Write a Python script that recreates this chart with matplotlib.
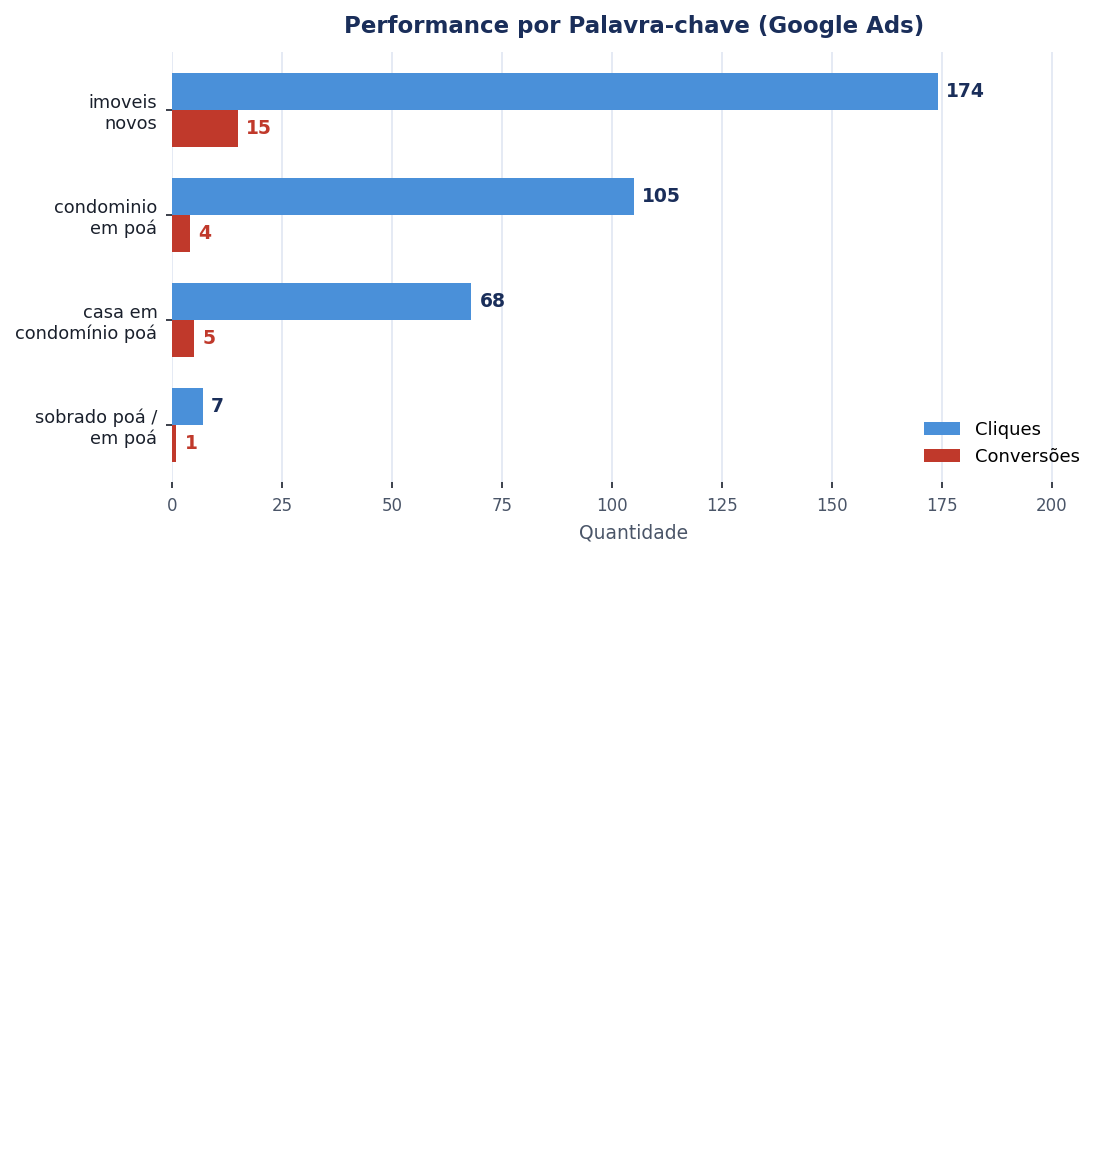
import matplotlib
matplotlib.use("Agg")
import matplotlib.pyplot as plt
import numpy as np

plt.rcParams["font.family"] = ["DejaVu Sans"]

keywords = ["imoveis\nnovos", "condominio\nem poá", "casa em\ncondomínio poá", "sobrado poá /\nem poá"]
cliques = [174, 105, 68, 7]
conversoes = [15, 4, 5, 1]
xticks = [0, 25, 50, 75, 100, 125, 150, 175, 200]

blue = "#4a90d9"
red = "#c0392b"
navy = "#1a2e5a"

fig = plt.figure(figsize=(11.1, 11.52), dpi=100)
ax = fig.add_axes([172/1110, 1-482/1152, (1096-172)/1110, (482-52)/1152])

y = np.arange(len(keywords))
h = 0.35
b1 = ax.barh(y - h/2, cliques, height=h, color=blue, label="Cliques", zorder=3)
b2 = ax.barh(y + h/2, conversoes, height=h, color=red, label="Conversões", zorder=3)

for rect, v in zip(b1, cliques):
    ax.annotate(str(v), (rect.get_width(), rect.get_y() + rect.get_height()/2),
                xytext=(6, 0), textcoords="offset points", va="center", ha="left",
                fontsize=13.5, fontweight="bold", color=navy)
for rect, v in zip(b2, conversoes):
    ax.annotate(str(v), (rect.get_width(), rect.get_y() + rect.get_height()/2),
                xytext=(6, 0), textcoords="offset points", va="center", ha="left",
                fontsize=13.5, fontweight="bold", color=red)

ax.set_yticks(y)
ax.set_yticklabels(keywords, fontsize=12.8, color="#1a202c")
ax.set_ylim(3.543, -0.552)
ax.set_xlim(0, 210)
ax.set_xticks(xticks)
ax.set_xticklabels([str(t) for t in xticks], fontsize=12, color="#4a5568")
ax.tick_params(axis="both", length=4.5, width=1.2, color="#1a202c")
ax.tick_params(axis="y", pad=6)
ax.tick_params(axis="x", pad=6)
ax.set_xlabel("Quantidade", fontsize=13.5, color="#4a5568", labelpad=6.5)
for s in ax.spines.values():
    s.set_visible(False)
ax.grid(axis="x", color="#e0e6f2", linewidth=1.2, zorder=0)
ax.set_axisbelow(True)

ax.set_title("Performance por Palavra-chave (Google Ads)", fontsize=16.5, fontweight="bold",
             color=navy, pad=14)
ax.legend(loc="lower right", frameon=False, fontsize=13)

fig.savefig("out.png", dpi=100, facecolor="white")
